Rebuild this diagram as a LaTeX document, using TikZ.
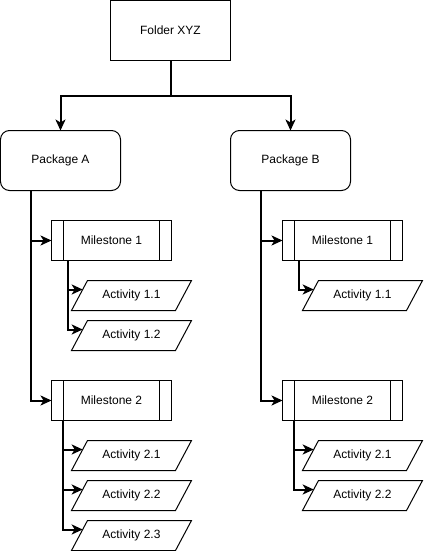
\documentclass[tikz,border=0pt]{standalone}
\usepackage{fontspec}
\setmainfont{Liberation Sans}
\usetikzlibrary{arrows.meta,calc}
\begin{document}
\begin{tikzpicture}[x=1pt,y=-1pt,
 every node/.style={font=\fontsize{12}{14}\selectfont, inner sep=0pt, outer sep=0pt},
 boxline/.style={draw=black, line width=1pt},
 folderbox/.style={boxline, minimum width=120pt, minimum height=60pt},
 pkgbox/.style={boxline, rounded corners=9pt, minimum width=120pt, minimum height=60pt},
 msbox/.style={boxline, minimum width=120pt, minimum height=40pt,
   path picture={
     \draw[line width=1pt] ([xshift=12pt]path picture bounding box.north west) -- ([xshift=12pt]path picture bounding box.south west);
     \draw[line width=1pt] ([xshift=-12pt]path picture bounding box.north east) -- ([xshift=-12pt]path picture bounding box.south east);
   }},
 actbox/.style={minimum width=120pt, minimum height=30pt},
 conn/.style={draw=black, line width=2pt, -{Stealth[length=11pt,width=10pt,inset=3pt]}}]
\useasboundingbox (-0.5,-0.5) rectangle (422.5,550.5);

\node[folderbox] (folder) at (170,30) {Folder XYZ};
\node[pkgbox] (pa) at (60,160) {Package A};
\node[pkgbox] (pb) at (290,160) {Package B};

\node[msbox] (ma1) at (111,240) {Milestone 1};
\node[msbox] (ma2) at (111,400) {Milestone 2};
\node[msbox] (mb1) at (342,240) {Milestone 1};
\node[msbox] (mb2) at (342,400) {Milestone 2};

\node[actbox] (a11) at (131,295) {Activity 1.1};
\node[actbox] (a12) at (131,335) {Activity 1.2};
\node[actbox] (a21) at (131,455) {Activity 2.1};
\node[actbox] (a22) at (131,495) {Activity 2.2};
\node[actbox] (a23) at (131,535) {Activity 2.3};
\node[actbox] (b11) at (362,295) {Activity 1.1};
\node[actbox] (b21) at (362,455) {Activity 2.1};
\node[actbox] (b22) at (362,495) {Activity 2.2};

\foreach \n in {a11,a12,a21,a22,a23,b11,b21,b22}{
  \draw[boxline] ([xshift=16pt]\n.north west) -- (\n.north east) -- ([xshift=-16pt]\n.south east) -- (\n.south west) -- cycle;
  \coordinate (t\n) at ($(\n.south west)!0.7!([xshift=16pt]\n.north west)$);
}

\draw[conn] (folder.south) -- ++(0,35) -| (pa.north);
\draw[conn] (folder.south) -- ++(0,35) -| (pb.north);

\draw[conn] ([xshift=-30pt]pa.south) |- (ma1.west);
\draw[conn] ([xshift=-30pt]pa.south) |- (ma2.west);
\draw[conn] ([xshift=-30pt]pb.south) |- (mb1.west);
\draw[conn] ([xshift=-30pt]pb.south) |- (mb2.west);

\foreach \n in {a11,a12}{\draw[conn] ([xshift=16pt]ma1.south west) |- (t\n);}
\foreach \n in {a21,a22,a23}{\draw[conn] ([xshift=11pt]ma2.south west) |- (t\n);}
\foreach \n in {b11}{\draw[conn] ([xshift=16pt]mb1.south west) |- (t\n);}
\foreach \n in {b21,b22}{\draw[conn] ([xshift=11pt]mb2.south west) |- (t\n);}
\end{tikzpicture}
\end{document}
